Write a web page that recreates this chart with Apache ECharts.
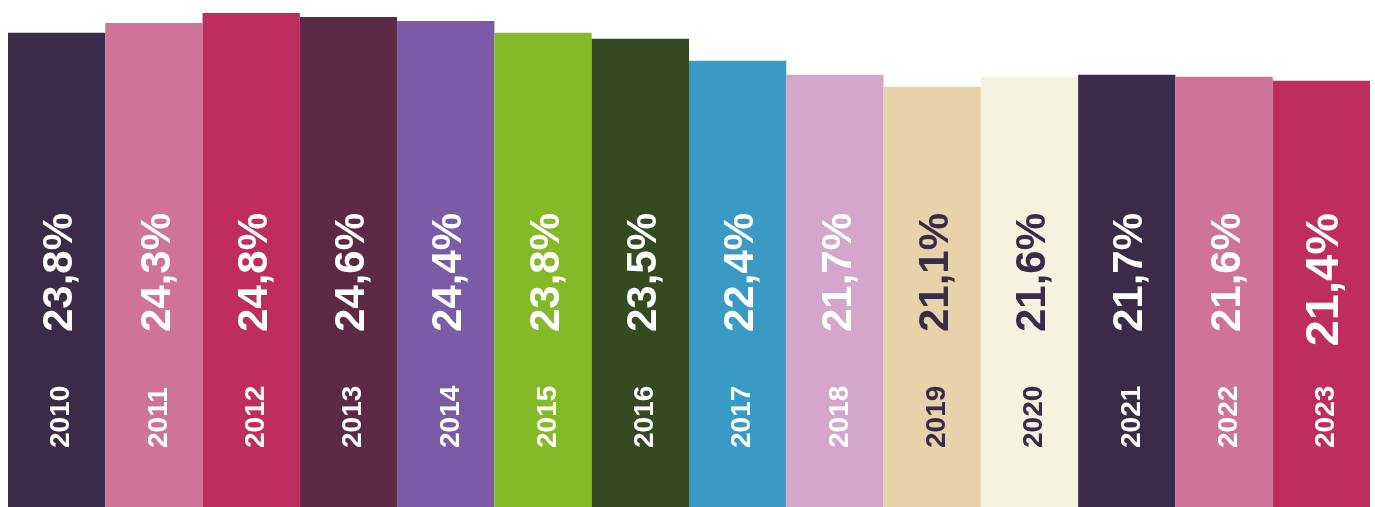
<!DOCTYPE html>
<html>
<head>
<meta charset="utf-8">
<script src="https://cdn.jsdelivr.net/npm/echarts@6/dist/echarts.min.js"></script>
<style>
  html, body { margin: 0; padding: 0; background: #fff; }
  #chart { width: 1375px; height: 507px; }
</style>
</head>
<body>
<div id="chart"></div>
<script>
const years = ["2010", "2011", "2012", "2013", "2014", "2015", "2016", "2017", "2018", "2019", "2020", "2021", "2022", "2023"];
const shares = [23.8, 24.3, 24.8, 24.6, 24.4, 23.8, 23.5, 22.4, 21.7, 21.1, 21.6, 21.7, 21.6, 21.4];
const barColors = ["#3a2c48", "#cf7496", "#bf2c5e", "#5c2a45", "#795ca5", "#84ba28", "#354a20", "#3a9ac6", "#d5a6cb", "#e7d2a9", "#f5f2df", "#3a2c48", "#cf7496", "#bf2c5e"];
const textColors = ["#fff", "#fff", "#fff", "#fff", "#fff", "#fff", "#fff", "#fff", "#fff", "#3a2c48", "#3a2c48", "#fff", "#fff", "#fff"];

const FONT = "'Liberation Sans', Arial, sans-serif";

const chart = echarts.init(document.getElementById("chart"));
chart.setOption({
  animation: false,
  grid: { left: 8, right: 5, top: 0, bottom: 0 },
  xAxis: {
    type: "category",
    data: years,
    axisLine: { show: false },
    axisTick: { show: false },
    axisLabel: { show: false },
  },
  yAxis: { type: "value", min: 0, max: 25.45, show: false },
  series: [
    {
      type: "bar",
      barCategoryGap: 0,
      data: shares.map((v, i) => ({
        value: v,
        itemStyle: { color: barColors[i] },
        label: { color: textColors[i], fontSize: i === shares.length - 1 ? 47 : 42 },
      })),
      label: {
        show: true,
        position: "insideBottom",
        distance: 294,
        rotate: 90,
        align: "right",
        verticalAlign: "middle",
        offset: [0, 4],
        fontFamily: FONT,
        fontWeight: "bold",
        formatter: (p) => p.value.toFixed(1).replace(".", ",") + "%",
      },
    },
    {
      // transparent copy, only carries the year labels
      type: "bar",
      barGap: "-100%",
      barCategoryGap: 0,
      silent: true,
      itemStyle: { color: "transparent" },
      data: shares.map((v, i) => ({ value: v, label: { color: textColors[i] } })),
      label: {
        show: true,
        position: "insideBottom",
        distance: 59,
        rotate: 90,
        align: "left",
        verticalAlign: "middle",
        offset: [0, 5],
        fontFamily: FONT,
        fontWeight: "bold",
        fontSize: 28,
        formatter: (p) => p.name,
      },
    },
  ],
});
</script>
</body>
</html>
